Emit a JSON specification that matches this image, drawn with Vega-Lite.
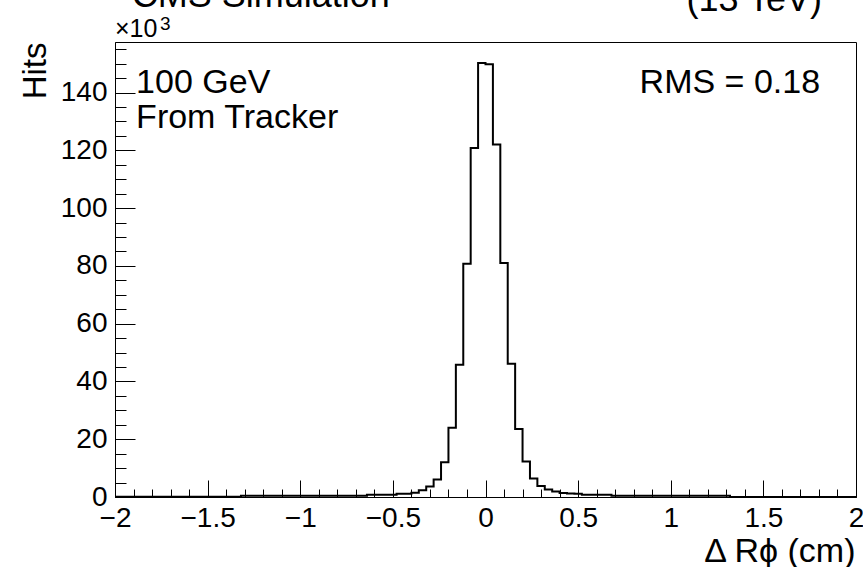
{
  "$schema": "https://vega.github.io/schema/vega-lite/v6.json",
  "width": 741,
  "height": 455,
  "autosize": {"type": "none"},
  "padding": {"left": 115, "top": 42, "right": 7, "bottom": 70},
  "background": "white",
  "config": {
    "view": {"stroke": "#000", "strokeWidth": 1},
    "font": "Liberation Sans",
    "axis": {"grid": false}
  },
  "resolve": {"axis": {"x": "independent", "y": "independent"}},
  "datasets": {
    "one": [{}],
    "hist": [
      {"lo": -2, "hits": 0.05}, {"lo": -1.96, "hits": 0.05}, {"lo": -1.92, "hits": 0.05}, {"lo": -1.88, "hits": 0.05},
      {"lo": -1.84, "hits": 0.05}, {"lo": -1.8, "hits": 0.05}, {"lo": -1.76, "hits": 0.05}, {"lo": -1.72, "hits": 0.05},
      {"lo": -1.68, "hits": 0.05}, {"lo": -1.64, "hits": 0.05}, {"lo": -1.6, "hits": 0.05}, {"lo": -1.56, "hits": 0.05},
      {"lo": -1.52, "hits": 0.05}, {"lo": -1.48, "hits": 0.05}, {"lo": -1.44, "hits": 0.05}, {"lo": -1.4, "hits": 0.05},
      {"lo": -1.36, "hits": 0.05},
      {"lo": -1.32, "hits": 0.4}, {"lo": -1.28, "hits": 0.4}, {"lo": -1.24, "hits": 0.4}, {"lo": -1.2, "hits": 0.4},
      {"lo": -1.16, "hits": 0.4}, {"lo": -1.12, "hits": 0.4}, {"lo": -1.08, "hits": 0.4}, {"lo": -1.04, "hits": 0.4},
      {"lo": -1, "hits": 0.4}, {"lo": -0.96, "hits": 0.4}, {"lo": -0.92, "hits": 0.4}, {"lo": -0.88, "hits": 0.4},
      {"lo": -0.84, "hits": 0.4}, {"lo": -0.8, "hits": 0.4}, {"lo": -0.76, "hits": 0.4}, {"lo": -0.72, "hits": 0.4},
      {"lo": -0.68, "hits": 0.4},
      {"lo": -0.64, "hits": 0.8}, {"lo": -0.6, "hits": 0.8}, {"lo": -0.56, "hits": 0.8}, {"lo": -0.52, "hits": 0.8},
      {"lo": -0.48, "hits": 1.1}, {"lo": -0.44, "hits": 1.1},
      {"lo": -0.4, "hits": 1.5}, {"lo": -0.36, "hits": 2.3}, {"lo": -0.32, "hits": 3.6}, {"lo": -0.28, "hits": 6.1},
      {"lo": -0.24, "hits": 12.0}, {"lo": -0.2, "hits": 24.0}, {"lo": -0.16, "hits": 45.8}, {"lo": -0.12, "hits": 80.7},
      {"lo": -0.08, "hits": 120.8}, {"lo": -0.04, "hits": 150.2},
      {"lo": 0, "hits": 149.8}, {"lo": 0.04, "hits": 122.0}, {"lo": 0.08, "hits": 81.0}, {"lo": 0.12, "hits": 46.1},
      {"lo": 0.16, "hits": 23.5}, {"lo": 0.2, "hits": 12.3}, {"lo": 0.24, "hits": 6.4}, {"lo": 0.28, "hits": 3.8},
      {"lo": 0.32, "hits": 2.6}, {"lo": 0.36, "hits": 1.9}, {"lo": 0.4, "hits": 1.4}, {"lo": 0.44, "hits": 1.2},
      {"lo": 0.48, "hits": 1.1},
      {"lo": 0.52, "hits": 0.75}, {"lo": 0.56, "hits": 0.75}, {"lo": 0.6, "hits": 0.75}, {"lo": 0.64, "hits": 0.75},
      {"lo": 0.68, "hits": 0.4}, {"lo": 0.72, "hits": 0.4}, {"lo": 0.76, "hits": 0.4}, {"lo": 0.8, "hits": 0.4},
      {"lo": 0.84, "hits": 0.4}, {"lo": 0.88, "hits": 0.4}, {"lo": 0.92, "hits": 0.4}, {"lo": 0.96, "hits": 0.4},
      {"lo": 1, "hits": 0.4}, {"lo": 1.04, "hits": 0.4}, {"lo": 1.08, "hits": 0.4}, {"lo": 1.12, "hits": 0.4},
      {"lo": 1.16, "hits": 0.4}, {"lo": 1.2, "hits": 0.4}, {"lo": 1.24, "hits": 0.4}, {"lo": 1.28, "hits": 0.4},
      {"lo": 1.32, "hits": 0.02}, {"lo": 1.36, "hits": 0.02}, {"lo": 1.4, "hits": 0.02}, {"lo": 1.44, "hits": 0.02},
      {"lo": 1.48, "hits": 0.02}, {"lo": 1.52, "hits": 0.02}, {"lo": 1.56, "hits": 0.02}, {"lo": 1.6, "hits": 0.02},
      {"lo": 1.64, "hits": 0.02}, {"lo": 1.68, "hits": 0.02}, {"lo": 1.72, "hits": 0.02}, {"lo": 1.76, "hits": 0.02},
      {"lo": 1.8, "hits": 0.02}, {"lo": 1.84, "hits": 0.02}, {"lo": 1.88, "hits": 0.02}, {"lo": 1.92, "hits": 0.02},
      {"lo": 1.96, "hits": 0.02}, {"lo": 2, "hits": 0.02}
    ]
  },
  "layer": [
    {
      "data": {"name": "hist"},
      "mark": {"type": "line", "interpolate": "step-after", "color": "#000", "strokeWidth": 2},
      "encoding": {
        "x": {
          "field": "lo", "type": "quantitative",
          "scale": {"domain": [-2, 2], "nice": false, "zero": false},
          "axis": {
            "orient": "bottom",
            "values": [-2, -1.5, -1, -0.5, 0, 0.5, 1, 1.5, 2],
            "format": "~g",
            "tickSize": -17, "tickColor": "#000", "tickWidth": 1,
            "domainColor": "#000", "domainWidth": 1,
            "labelFont": "Liberation Sans", "labelFontSize": 28, "labelColor": "#000",
            "labelPadding": 24, "labelBaseline": "top", "labelFlush": false, "labelOverlap": false, "labelBound": false,
            "title": "Δ Rϕ (cm)",
            "titleFont": "Liberation Sans", "titleFontSize": 34, "titleFontWeight": "normal", "titleColor": "#000",
            "titleAlign": "right", "titleAnchor": "end", "titleBaseline": "alphabetic",
            "titleX": 740, "titleY": 64
          }
        },
        "y": {
          "field": "hits", "type": "quantitative",
          "scale": {"domain": [0, 157.5], "nice": false},
          "axis": {
            "orient": "left",
            "values": [0, 20, 40, 60, 80, 100, 120, 140],
            "tickSize": -20, "tickColor": "#000", "tickWidth": 1,
            "domainColor": "#000", "domainWidth": 1,
            "labelFont": "Liberation Sans", "labelFontSize": 28, "labelColor": "#000",
            "labelPadding": 28, "labelFlush": false, "labelOverlap": false, "labelBound": false,
            "title": "Hits",
            "titleFont": "Liberation Sans", "titleFontSize": 33, "titleFontWeight": "normal", "titleColor": "#000",
            "titleAngle": -90, "titleAlign": "right", "titleAnchor": "end", "titleBaseline": "alphabetic",
            "titleX": -70, "titleY": 0
          }
        }
      }
    },
    {
      "data": {"name": "hist"},
      "mark": {"type": "point", "opacity": 0},
      "encoding": {
        "x": {
          "field": "lo", "type": "quantitative",
          "scale": {"domain": [-2, 2], "nice": false, "zero": false},
          "axis": {
            "orient": "bottom",
            "values": [-1.9, -1.8, -1.7, -1.6, -1.4, -1.3, -1.2, -1.1, -0.9, -0.8, -0.7, -0.6, -0.4, -0.3, -0.2, -0.1, 0.1, 0.2, 0.3, 0.4, 0.6, 0.7, 0.8, 0.9, 1.1, 1.2, 1.3, 1.4, 1.6, 1.7, 1.8, 1.9],
            "tickSize": -8, "tickColor": "#000", "tickWidth": 1,
            "domain": false, "labels": false, "title": null
          }
        },
        "y": {
          "field": "hits", "type": "quantitative",
          "scale": {"domain": [0, 157.5], "nice": false},
          "axis": {
            "orient": "left",
            "values": [5, 10, 15, 25, 30, 35, 45, 50, 55, 65, 70, 75, 85, 90, 95, 105, 110, 115, 125, 130, 135, 145, 150, 155],
            "tickSize": -11, "tickColor": "#000", "tickWidth": 1,
            "domain": false, "labels": false, "title": null
          }
        }
      }
    },
    {
      "data": {"name": "one"},
      "mark": {"type": "text", "text": "100 GeV", "align": "left", "baseline": "alphabetic", "font": "Liberation Sans", "fontSize": 34, "color": "#000"},
      "encoding": {
        "x": {"datum": -1.886, "type": "quantitative", "axis": null},
        "y": {"datum": 139.85, "type": "quantitative", "axis": null}
      }
    },
    {
      "data": {"name": "one"},
      "mark": {"type": "text", "text": "From Tracker", "align": "left", "baseline": "alphabetic", "font": "Liberation Sans", "fontSize": 34, "color": "#000"},
      "encoding": {
        "x": {"datum": -1.886, "type": "quantitative", "axis": null},
        "y": {"datum": 127.6, "type": "quantitative", "axis": null}
      }
    },
    {
      "data": {"name": "one"},
      "mark": {"type": "text", "text": "RMS = 0.18", "align": "right", "baseline": "alphabetic", "font": "Liberation Sans", "fontSize": 34, "color": "#000"},
      "encoding": {
        "x": {"datum": 1.806, "type": "quantitative", "axis": null},
        "y": {"datum": 140.0, "type": "quantitative", "axis": null}
      }
    },
    {
      "data": {"name": "one"},
      "mark": {"type": "text", "text": "CMS Simulation", "align": "left", "baseline": "alphabetic", "font": "Liberation Sans", "fontSize": 36, "color": "#000"},
      "encoding": {
        "x": {"datum": -1.91, "type": "quantitative", "axis": null},
        "y": {"datum": 169.5, "type": "quantitative", "axis": null}
      }
    },
    {
      "data": {"name": "one"},
      "mark": {"type": "text", "text": "(13 TeV)", "align": "right", "baseline": "alphabetic", "font": "Liberation Sans", "fontSize": 36, "color": "#000"},
      "encoding": {
        "x": {"datum": 1.816, "type": "quantitative", "axis": null},
        "y": {"datum": 168.2, "type": "quantitative", "axis": null}
      }
    },
    {
      "data": {"name": "one"},
      "mark": {"type": "text", "text": "×10", "align": "left", "baseline": "alphabetic", "font": "Liberation Sans", "fontSize": 25, "color": "#000"},
      "encoding": {
        "x": {"datum": -2.0, "type": "quantitative", "axis": null},
        "y": {"datum": 159.2, "type": "quantitative", "axis": null}
      }
    },
    {
      "data": {"name": "one"},
      "mark": {"type": "text", "text": "3", "align": "left", "baseline": "alphabetic", "font": "Liberation Sans", "fontSize": 19, "color": "#000"},
      "encoding": {
        "x": {"datum": -1.757, "type": "quantitative", "axis": null},
        "y": {"datum": 161.6, "type": "quantitative", "axis": null}
      }
    }
  ]
}
